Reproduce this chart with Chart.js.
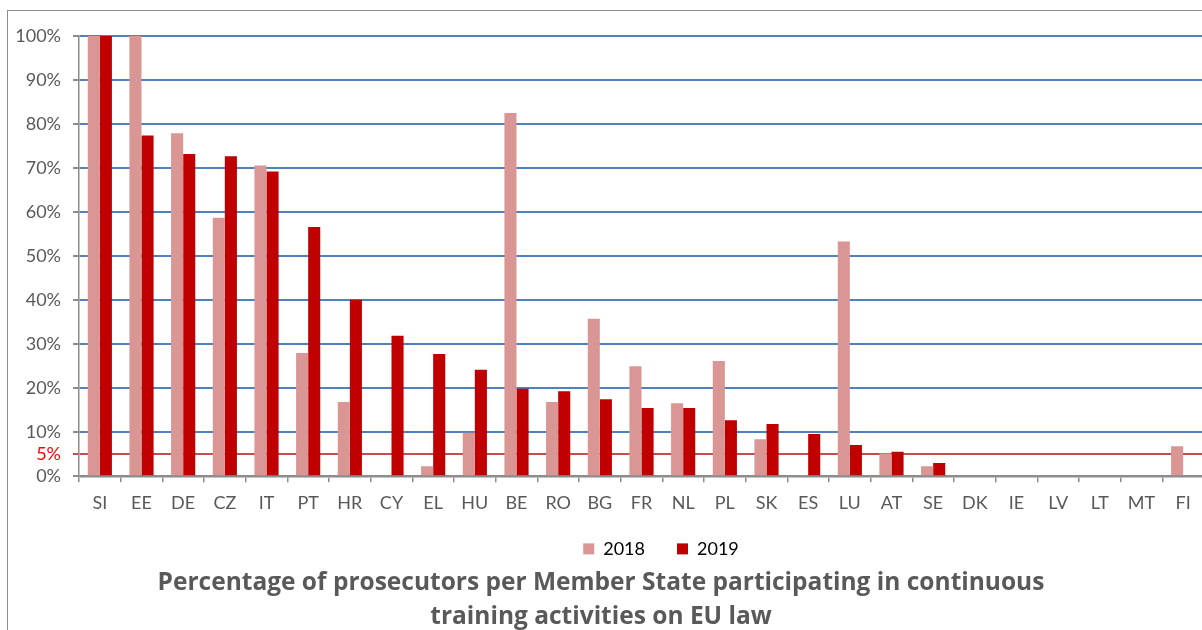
<!DOCTYPE html>
<html>
<head>
<meta charset="utf-8">
<script src="https://cdn.jsdelivr.net/npm/chart.js@4"></script>
<style>
  html, body { margin: 0; padding: 0; background: #fff; overflow: hidden; }
  #frame {
    position: absolute; left: 7px; top: 10px;
    width: 1210px; height: 651px;
    border-left: 1px solid #8c8c8c; border-top: 1px solid #8c8c8c;
  }
  #wrap { position: absolute; left: 0; top: 0; width: 1210px; height: 651px; }
</style>
</head>
<body>
<div id="frame"><div id="wrap"><canvas id="trainingChart"></canvas></div></div>
<script>
// member states
var countries = ['SI', 'EE', 'DE', 'CZ', 'IT', 'PT', 'HR', 'CY', 'EL', 'HU', 'BE', 'RO', 'BG', 'FR',
  'NL', 'PL', 'SK', 'ES', 'LU', 'AT', 'SE', 'DK', 'IE', 'LV', 'LT', 'MT', 'FI'];

// percent of prosecutors trained
var values2018 = [100, 100, 77.9, 58.7, 70.6, 28.0, 16.9, 0, 2.3, 9.9, 82.5, 16.9, 35.8, 25.0,
  16.6, 26.2, 8.4, 0.3, 53.3, 5.2, 2.3, 0, 0, 0, 0, 0, 6.8];
var values2019 = [100, 77.4, 73.2, 72.7, 69.2, 56.6, 40.1, 31.9, 27.8, 24.2, 19.9, 19.3, 17.5, 15.5,
  15.5, 12.7, 11.9, 9.6, 7.1, 5.6, 3.0, 0, 0, 0, 0, 0, 0];

var yTicks = [0, 5, 10, 20, 30, 40, 50, 60, 70, 80, 90, 100];
var targetLine = 5;

// put legend + title where they sit in the original
var nudgeBoxes = {
  id: 'nudgeBoxes',
  afterLayout: function (chart) {
    var lg = chart.legend;
    if (lg) {
      lg.left += 55; lg.right += 55;
      lg.top -= 16; lg.bottom -= 16;
    }
    var tb = chart.titleBlock;
    if (tb) {
      tb.left -= 5; tb.right -= 5;
      tb.top -= 18; tb.bottom -= 18;
    }
  }
};

var ctx = document.getElementById('trainingChart').getContext('2d');

var trainingChart = new Chart(ctx, {
  type: 'bar',
  data: {
    labels: countries,
    datasets: [{
      label: '2018',
      data: values2018,
      backgroundColor: '#d99694'
    }, {
      label: '2019',
      data: values2019,
      backgroundColor: '#c00000'
    }]
  },
  options: {
    responsive: true,
    maintainAspectRatio: false,
    animation: false,
    categoryPercentage: 0.58,
    barPercentage: 1.0,
    layout: {
      padding: { top: 25, right: 14, left: 0, bottom: 0 }
    },
    scales: {
      x: {
        grid: {
          offset: true,
          drawOnChartArea: false,
          drawTicks: true,
          tickLength: 6,
          color: '#8c8c8c',
          lineWidth: 1.5
        },
        border: { color: '#8c8c8c', width: 1.5 },
        ticks: {
          color: '#595959',
          font: { family: 'Lato', size: 18 },
          padding: 10,
          autoSkip: false,
          maxRotation: 0
        }
      },
      y: {
        min: 0,
        max: 100,
        afterBuildTicks: function (axis) {
          axis.ticks = yTicks.map(function (v) { return { value: v }; });
        },
        afterFit: function (axis) {
          axis.width = 71;
        },
        grid: {
          tickLength: 6,
          lineWidth: 2,
          color: function (c) {
            if (c.tick.value === targetLine) return '#c0504d';
            if (c.tick.value === 0) return '#8c8c8c';
            return '#4f81bd';
          },
          tickColor: function (c) {
            return c.tick.value === targetLine ? '#c0504d' : '#8c8c8c';
          }
        },
        border: { color: '#8c8c8c', width: 1.5 },
        ticks: {
          color: function (c) {
            return c.tick.value === targetLine ? '#ff0000' : '#595959';
          },
          font: { family: 'Lato', size: 18 },
          padding: 12,
          callback: function (v) { return v + '%'; }
        }
      }
    },
    plugins: {
      legend: {
        position: 'bottom',
        labels: {
          boxWidth: 11,
          boxHeight: 11,
          color: '#000',
          font: { family: 'Lato', size: 18 },
          padding: 32
        }
      },
      title: {
        display: true,
        position: 'bottom',
        text: ['Percentage of prosecutors per Member State participating in continuous',
          'training activities on EU law'],
        color: '#595959',
        font: { family: 'Open Sans', size: 24.5, weight: 'bold', lineHeight: 1.39 },
        padding: { top: 0, bottom: 10 }
      },
      tooltip: { enabled: false }
    }
  },
  plugins: [nudgeBoxes]
});
</script>
</body>
</html>
